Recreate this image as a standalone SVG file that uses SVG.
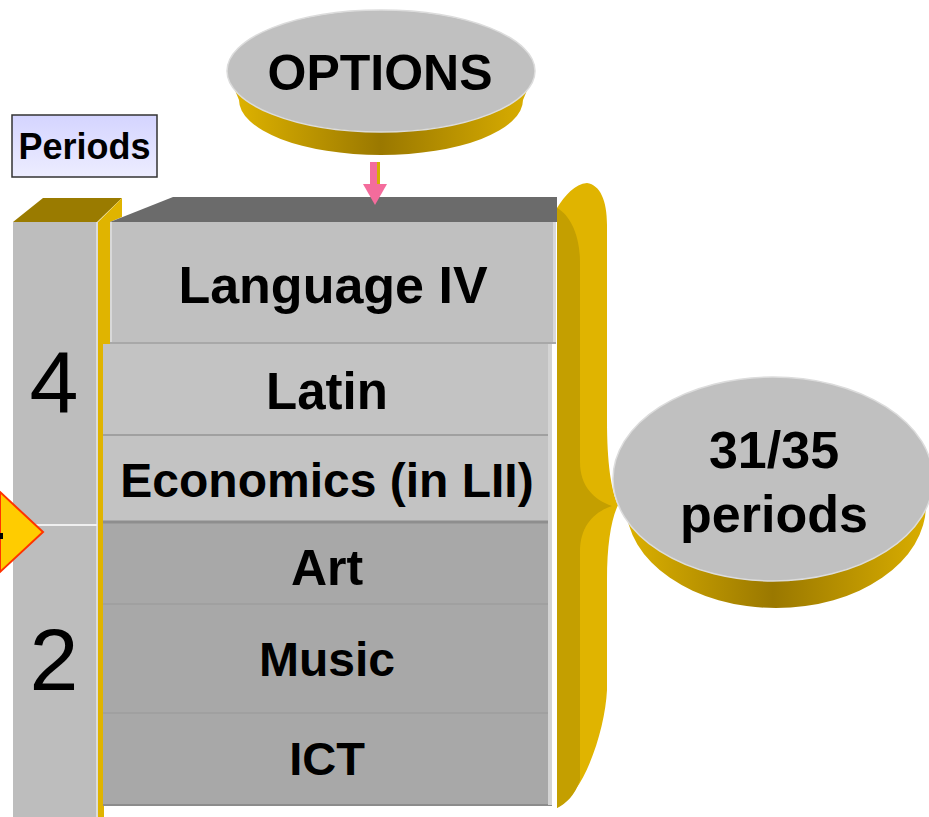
<svg xmlns="http://www.w3.org/2000/svg" width="929" height="817" viewBox="0 0 929 817">
<defs>
<linearGradient id="gold" x1="0" y1="0" x2="1" y2="0">
<stop offset="0" stop-color="#e2b600"/>
<stop offset="0.5" stop-color="#9a7800"/>
<stop offset="1" stop-color="#dcb000"/>
</linearGradient>
<linearGradient id="lav" x1="0" y1="0" x2="0" y2="1">
<stop offset="0" stop-color="#d4d4ff"/>
<stop offset="1" stop-color="#ededff"/>
</linearGradient>
</defs>
<style>
.t{font-family:"Liberation Sans",Arial,sans-serif;font-weight:bold;fill:#000;text-anchor:middle}
.n{font-family:"Liberation Sans",Arial,sans-serif;font-weight:normal;fill:#000;text-anchor:middle}
.rowA{fill:#c3c3c3}
.rowB{fill:#a8a8a8}
.sep{stroke:#a0a0a0;stroke-width:2}
.face{fill:#c0c0c0}
</style>
<rect width="929" height="817" fill="#ffffff"/>

<g id="periods-label">
<rect x="12" y="115" width="145" height="62" fill="url(#lav)" stroke="#333" stroke-width="1.5"/>
<text class="t" x="84.5" y="159" font-size="36">Periods</text>
</g>

<g id="period-column">
<polygon points="13,222 43,198 122,198 97,222" fill="#9a7b00"/>
<polygon points="98,222 122,198 122,217 110,222" fill="#e0b400"/>
<rect x="13" y="222" width="83" height="595" fill="#bdbdbd"/>
<rect x="96" y="222" width="2" height="595" fill="#dcdcdc"/>
<rect x="98" y="222" width="12" height="122" fill="#e0b400"/>
<rect x="98" y="344" width="6" height="473" fill="#e0b400"/>
<line x1="13" y1="525" x2="97" y2="525" stroke="#f0f0f0" stroke-width="2"/>
<text class="n" x="54" y="413" font-size="88">4</text>
<text class="n" x="54" y="690" font-size="88">2</text>
</g>

<g id="box-top">
<polygon points="110,222 173,197 557,197 557,222" fill="#6b6b6b"/>
</g>

<g id="language-iv">
<rect x="110" y="222" width="446" height="121" class="face"/>
<rect x="110" y="222" width="2" height="121" fill="#d8d8d8"/>
<rect x="553" y="222" width="3" height="121" fill="#d8d8d8"/>
<line x1="110" y1="343" x2="556" y2="343" stroke="#a8a8a8" stroke-width="2"/>
<text class="t" x="333" y="303" font-size="52">Language IV</text>
</g>

<g id="latin">
<rect x="103" y="344" width="449" height="91" class="rowA"/>
<text class="t" x="327" y="409" font-size="51">Latin</text>
</g>
<g id="economics">
<rect x="103" y="435" width="449" height="87" class="rowA"/>
<line x1="103" y1="435" x2="552" y2="435" class="sep" stroke="#b2b2b2"/>
<text class="t" x="327" y="497" font-size="48">Economics (in LII)</text>
</g>
<g id="art">
<rect x="103" y="522" width="449" height="82" class="rowB"/>
<line x1="103" y1="522" x2="552" y2="522" stroke="#8e8e8e" stroke-width="3"/>
<text class="t" x="327" y="585" font-size="50">Art</text>
</g>
<g id="music">
<rect x="103" y="604" width="449" height="109" class="rowB"/>
<line x1="103" y1="604" x2="552" y2="604" class="sep" stroke="#999"/>
<text class="t" x="327" y="676" font-size="48">Music</text>
</g>
<g id="ict">
<rect x="103" y="713" width="449" height="92" class="rowB"/>
<line x1="103" y1="713" x2="552" y2="713" class="sep" stroke="#999"/>
<line x1="103" y1="805" x2="552" y2="805" stroke="#8c8c8c" stroke-width="2"/>
<text class="t" x="327" y="775" font-size="47">ICT</text>
</g>
<rect x="548" y="344" width="4" height="461" fill="#d4d4d4"/>

<g id="brace">
<path d="M557,208 C565,195 575,184 587,183 C600,185 607,200 607,225 L607,420 C607,462 611,490 618,505 C611,520 607,545 607,580 L607,690 C605,730 585,792 557,808 Z" fill="#e0b400"/>
<path d="M557,208 C570,215 580,235 580,262 L580,462 C580,486 594,500 612,506 C594,512 580,526 580,552 L580,780 C575,795 566,804 557,808 Z" fill="#c49f00"/>
</g>

<g id="options">
<path d="M227,71 L239,100 A142,55 0 0 0 523,100 L535,71 Z" fill="url(#gold)"/>
<ellipse cx="381" cy="71" rx="154" ry="61" fill="#c0c0c0" stroke="#dcdcdc" stroke-width="1.5"/>
<text class="t" x="380" y="90" font-size="50">OPTIONS</text>
</g>

<g id="total">
<path d="M613,479 L626,505 A150,103 0 0 0 926,505 L933,479 Z" fill="url(#gold)"/>
<ellipse cx="773" cy="479" rx="160" ry="102" fill="#c0c0c0" stroke="#dcdcdc" stroke-width="1.5"/>
<text class="t" x="774" y="468" font-size="52">31/35</text>
<text class="t" x="774" y="532" font-size="52">periods</text>
</g>

<g id="connectors">
<rect x="370" y="162" width="10" height="22" fill="#f46c9c"/>
<rect x="377" y="162" width="3" height="22" fill="#d4b000"/>
<polygon points="363,184 387,184 375,205" fill="#f46c9c"/>
<polygon points="0,492 43,532 0,572" fill="#ffcc00" stroke="#ff3300" stroke-width="2"/>
<rect x="0" y="533" width="3" height="6" fill="#000"/>
</g>
</svg>
